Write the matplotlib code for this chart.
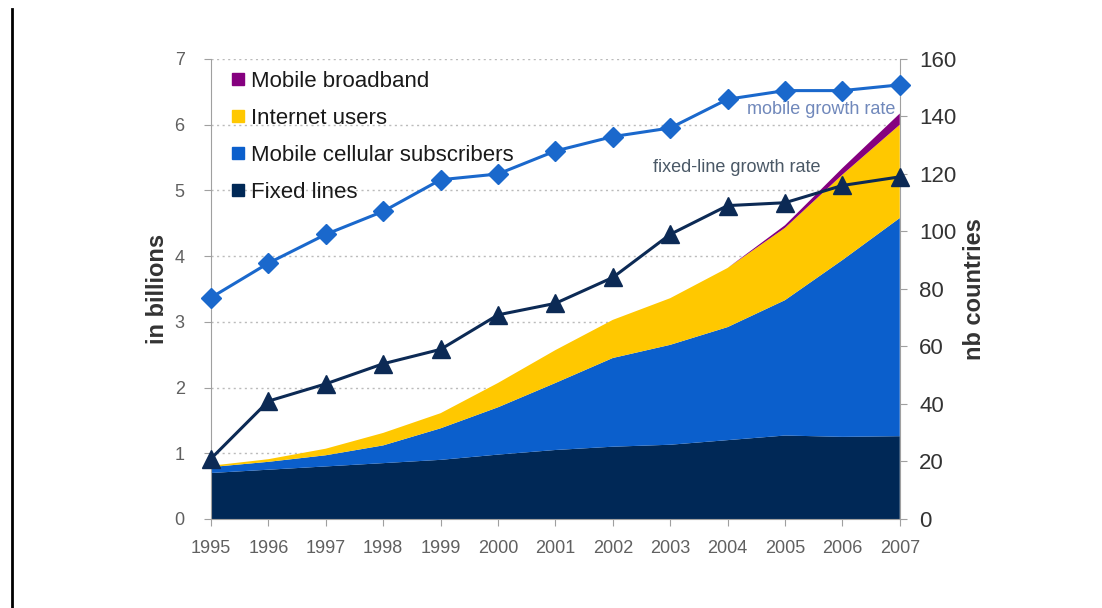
import matplotlib
matplotlib.use("Agg")
import matplotlib.pyplot as plt
from matplotlib.lines import Line2D
import numpy as np

plt.rcParams['font.family'] = ['Liberation Sans', 'DejaVu Sans']

years = [1995, 1996, 1997, 1998, 1999, 2000, 2001, 2002, 2003, 2004, 2005, 2006, 2007]
# billions (individual layers)
fixed_lines = [0.70, 0.75, 0.80, 0.85, 0.90, 0.98, 1.05, 1.10, 1.13, 1.20, 1.27, 1.25, 1.26]
mobile_subs = [0.09, 0.12, 0.17, 0.27, 0.48, 0.72, 1.02, 1.35, 1.52, 1.72, 2.06, 2.69, 3.32]
internet_users = [0.02, 0.04, 0.10, 0.19, 0.23, 0.37, 0.50, 0.58, 0.71, 0.90, 1.10, 1.30, 1.42]
mobile_broadband = [0.0, 0.0, 0.0, 0.0, 0.0, 0.0, 0.0, 0.0, 0.0, 0.0, 0.04, 0.10, 0.17]
# nb countries
mobile_growth = [77, 89, 99, 107, 118, 120, 128, 133, 136, 146, 149, 149, 151]
fixed_growth = [21, 41, 47, 54, 59, 71, 75, 84, 99, 109, 110, 116, 119]

layer_labels = ['Fixed lines', 'Mobile cellular subscribers', 'Internet users', 'Mobile broadband']
layer_colors = ['#002856', '#0b5fcc', '#ffc800', '#85007f']

fig = plt.figure(figsize=(11.02, 6.08), dpi=100)
ax = fig.add_axes([0.1915, 0.1464, 0.625, 0.7566])
ax.stackplot(years, fixed_lines, mobile_subs, internet_users, mobile_broadband,
             colors=layer_colors, linewidth=0, zorder=2)
ax.set_xlim(1995, 2007)
ax.set_ylim(0, 7)
ax.set_yticks(range(0, 8))
ax.set_xticks(years)
ax.grid(axis='y', linestyle=(0, (1.5, 2.5)), color='#bbbbbb', linewidth=1, zorder=0)
ax.set_axisbelow(True)
for s in ['top', 'right']:
    ax.spines[s].set_visible(False)
for s in ['left', 'bottom']:
    ax.spines[s].set_color('#a0a0a0')
ax.tick_params(axis='y', colors='#a0a0a0', labelcolor='#606060', labelsize=13, length=5, pad=14)
ax.tick_params(axis='x', colors='#a0a0a0', labelcolor='#606060', labelsize=13, length=5, pad=10)
ax.set_ylabel('in billions', fontsize=17, fontweight='bold', color='#333333', labelpad=4)

ax2 = ax.twinx()
ax2.set_ylim(0, 160)
ax2.set_yticks(range(0, 161, 20))
for s in ['top', 'left', 'bottom']:
    ax2.spines[s].set_visible(False)
ax2.spines['right'].set_color('#a0a0a0')
ax2.tick_params(colors='#a0a0a0', labelcolor='#333333', labelsize=16, length=5, pad=9)
ax2.set_ylabel('nb countries', fontsize=17, fontweight='bold', color='#333333', labelpad=5)

ax2.plot(years, mobile_growth, color='#1a68cc', linewidth=2.2, marker='D',
         markersize=10, markerfacecolor='#1a68cc', markeredgecolor='#1a68cc', zorder=4, clip_on=False)
ax2.plot(years, fixed_growth, color='#0c2a55', linewidth=2.2, marker='^',
         markersize=13, markerfacecolor='#0c2a55', markeredgecolor='#0c2a55', zorder=4, clip_on=False)

ax2.text(2006.93, 142.5, 'mobile growth rate', ha='right', va='center', fontsize=13, color='#7088bb')
ax2.text(2004.16, 122.3, 'fixed-line growth rate', ha='center', va='center', fontsize=13, color='#4a5866')

handles = [Line2D([], [], linestyle='none', marker='s', markersize=8.5, color=c)
           for c in reversed(layer_colors)]
leg = ax2.legend(handles, list(reversed(layer_labels)), loc='upper left',
                 bbox_to_anchor=(0.006, 1.008), frameon=False, fontsize=16,
                 handletextpad=0.2, labelspacing=0.72, handlelength=0.7, borderaxespad=0.3)
for t in leg.get_texts():
    t.set_color('#1a1a1a')

# left frame line of the slide
fig.add_artist(Line2D([0.011, 0.011], [0.0, 0.985], color='black', linewidth=2))

fig.savefig('out.png', dpi=100)
